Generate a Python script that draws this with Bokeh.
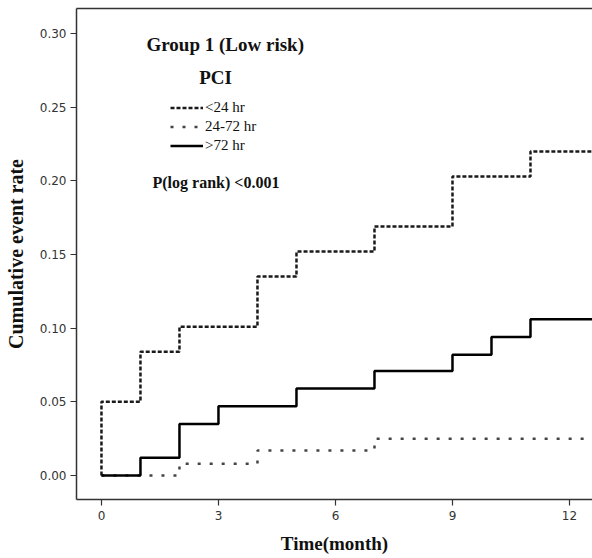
from bokeh.plotting import figure
from bokeh.models import Range1d, FixedTicker, Label, Legend, LegendItem, LinearAxis, CustomJSTickFormatter
from bokeh.embed import file_html
from bokeh.resources import INLINE

# Data (cumulative event rate by month)
t_lt24 = [0, 0, 1, 2, 4, 5, 7, 9, 11, 13]
y_lt24 = [0, 0.050, 0.084, 0.101, 0.135, 0.152, 0.169, 0.203, 0.220, 0.220]
t_24_72 = [0, 2, 4, 7, 13]
y_24_72 = [0, 0.008, 0.017, 0.025, 0.025]
t_gt72 = [0, 1, 2, 3, 5, 7, 9, 10, 11, 13]
y_gt72 = [0, 0.012, 0.035, 0.047, 0.059, 0.071, 0.082, 0.094, 0.106, 0.106]
x_ticks = [0, 3, 6, 9, 12]
y_ticks = [0.0, 0.05, 0.10, 0.15, 0.20, 0.25, 0.30]
labels = ["<24 hr", "24-72 hr", ">72 hr"]

SERIF = "Liberation Serif"
SANS = "DejaVu Sans"

p = figure(width=592, height=558, output_backend="svg", toolbar_location=None,
           x_range=Range1d(-0.64, 12.59), y_range=Range1d(-0.0163, 0.317),
           min_border_left=76, min_border_top=8, min_border_right=0, min_border_bottom=59)
p.xgrid.visible = False
p.ygrid.visible = False
p.outline_line_color = None
p.background_fill_color = "white"

r2 = p.step(t_24_72, y_24_72, mode="after", line_color="#444444", line_width=2.5, line_dash="3 9")
r1 = p.step(t_lt24, y_lt24, mode="after", line_color="#1a1a1a", line_width=2.5, line_dash="4 2")
r3 = p.step(t_gt72, y_gt72, mode="after", line_color="#000000", line_width=2.5)

for ax in (p.xaxis[0], p.yaxis[0]):
    ax.axis_line_color = "#333333"
    ax.axis_line_width = 1.5
    ax.major_tick_line_color = "#333333"
    ax.major_tick_line_width = 1.2
    ax.major_tick_out = 6
    ax.major_tick_in = 0
    ax.minor_tick_line_color = None
    ax.major_label_text_font = SANS
    ax.major_label_text_font_size = "12px"
    ax.major_label_text_color = "#333333"
    ax.axis_label_text_font = SERIF
    ax.axis_label_text_font_style = "bold"
    ax.axis_label_text_color = "#111111"

p.xaxis[0].ticker = FixedTicker(ticks=x_ticks)
p.yaxis[0].ticker = FixedTicker(ticks=y_ticks)
p.yaxis[0].formatter = CustomJSTickFormatter(code="return tick.toFixed(2);")
p.xaxis[0].axis_label = "Time(month)"
p.yaxis[0].axis_label = "Cumulative event rate"
p.xaxis[0].axis_label_text_font_size = "19px"
p.yaxis[0].axis_label_text_font_size = "20px"
p.xaxis[0].axis_label_standoff = 10
p.yaxis[0].axis_label_standoff = 10
p.xaxis[0].major_label_standoff = 5
p.yaxis[0].major_label_standoff = 4

top = LinearAxis(ticker=FixedTicker(ticks=[]), axis_line_color="#333333", axis_line_width=1.5,
                 major_tick_line_color=None, minor_tick_line_color=None,
                 major_label_text_font_size="0px")
p.add_layout(top, "above")

p.add_layout(Label(x=70, y=455, x_units="screen", y_units="screen", text="Group 1 (Low risk)",
                   text_font=SERIF, text_font_style="bold", text_font_size="19px",
                   text_baseline="middle", text_color="#111111"))
p.add_layout(Label(x=139, y=422, x_units="screen", y_units="screen", text="PCI",
                   text_font=SERIF, text_font_style="bold", text_font_size="19px",
                   text_baseline="middle", text_align="center", text_color="#111111"))
p.add_layout(Label(x=76, y=317, x_units="screen", y_units="screen", text="P(log rank) <0.001",
                   text_font=SERIF, text_font_style="bold", text_font_size="16px",
                   text_baseline="middle", text_color="#111111"))

legend = Legend(items=[LegendItem(label=labels[0], renderers=[r1]),
                       LegendItem(label=labels[1], renderers=[r2]),
                       LegendItem(label=labels[2], renderers=[r3])],
                location=(94, 344), border_line_color=None, background_fill_alpha=0,
                padding=0, spacing=0, margin=0, glyph_width=33, glyph_height=19,
                label_height=19, label_standoff=2, label_text_font=SERIF,
                label_text_font_size="15px", label_text_color="#111111")
p.add_layout(legend, "center")

open("out.html", "w").write(file_html(p, INLINE))
